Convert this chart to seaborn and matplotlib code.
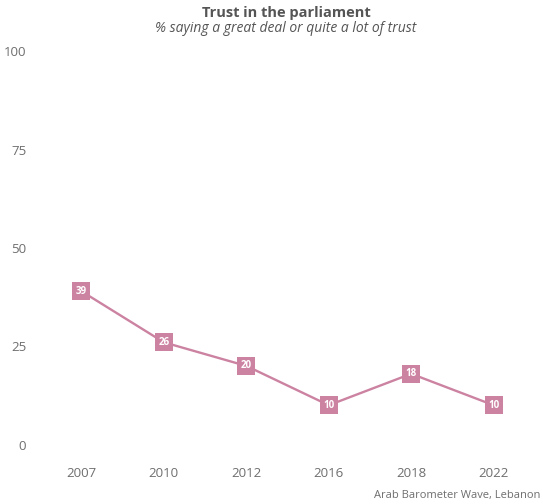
import matplotlib
matplotlib.use('Agg')
import matplotlib.pyplot as plt
import seaborn as sns
import pandas as pd

years = ['2007', '2010', '2012', '2016', '2018', '2022']
trust = [39, 26, 20, 10, 18, 10]
y_ticks = [0, 25, 50, 75, 100]

PINK = '#cc82a1'
GREY = '#6e6e6e'

sns.set_theme(style='white')
plt.rcParams['font.family'] = ['Open Sans', 'DejaVu Sans']

df = pd.DataFrame({'year': years, 'trust': trust})

fig = plt.figure(figsize=(5.43, 5.04), dpi=100)
ax = fig.add_axes([0.074, 0.079, 0.911, 0.858])

sns.lineplot(data=df, x='year', y='trust', ax=ax, color=PINK, linewidth=1.7)

for i, v in enumerate(trust):
    ax.text(i, v, str(v), ha='center', va='center', color='white',
            fontsize=7, fontweight='bold',
            bbox=dict(boxstyle='square,pad=0.35', fc=PINK, ec='none'))

ax.set_xlim(-0.5, len(years) - 0.5)
ax.set_ylim(-5, 105)
ax.set_yticks(y_ticks)
ax.set_xlabel('')
ax.set_ylabel('')
ax.tick_params(axis='both', length=0, labelsize=9.5, colors=GREY)
ax.tick_params(axis='x', pad=2)
ax.tick_params(axis='y', pad=10)
for s in ax.spines.values():
    s.set_visible(False)

fig.text(0.527, 0.974, 'Trust in the parliament', ha='center', va='center',
         fontsize=10.5, fontweight='bold', color='#555555')
fig.text(0.527, 0.944, '% saying a great deal or quite a lot of trust',
         ha='center', va='center', fontsize=10, style='italic', color='#555555')
fig.text(0.995, 0.017, 'Arab Barometer Wave, Lebanon', ha='right', va='center',
         fontsize=8, color=GREY)

fig.savefig('out.png', dpi=100, facecolor='white')
